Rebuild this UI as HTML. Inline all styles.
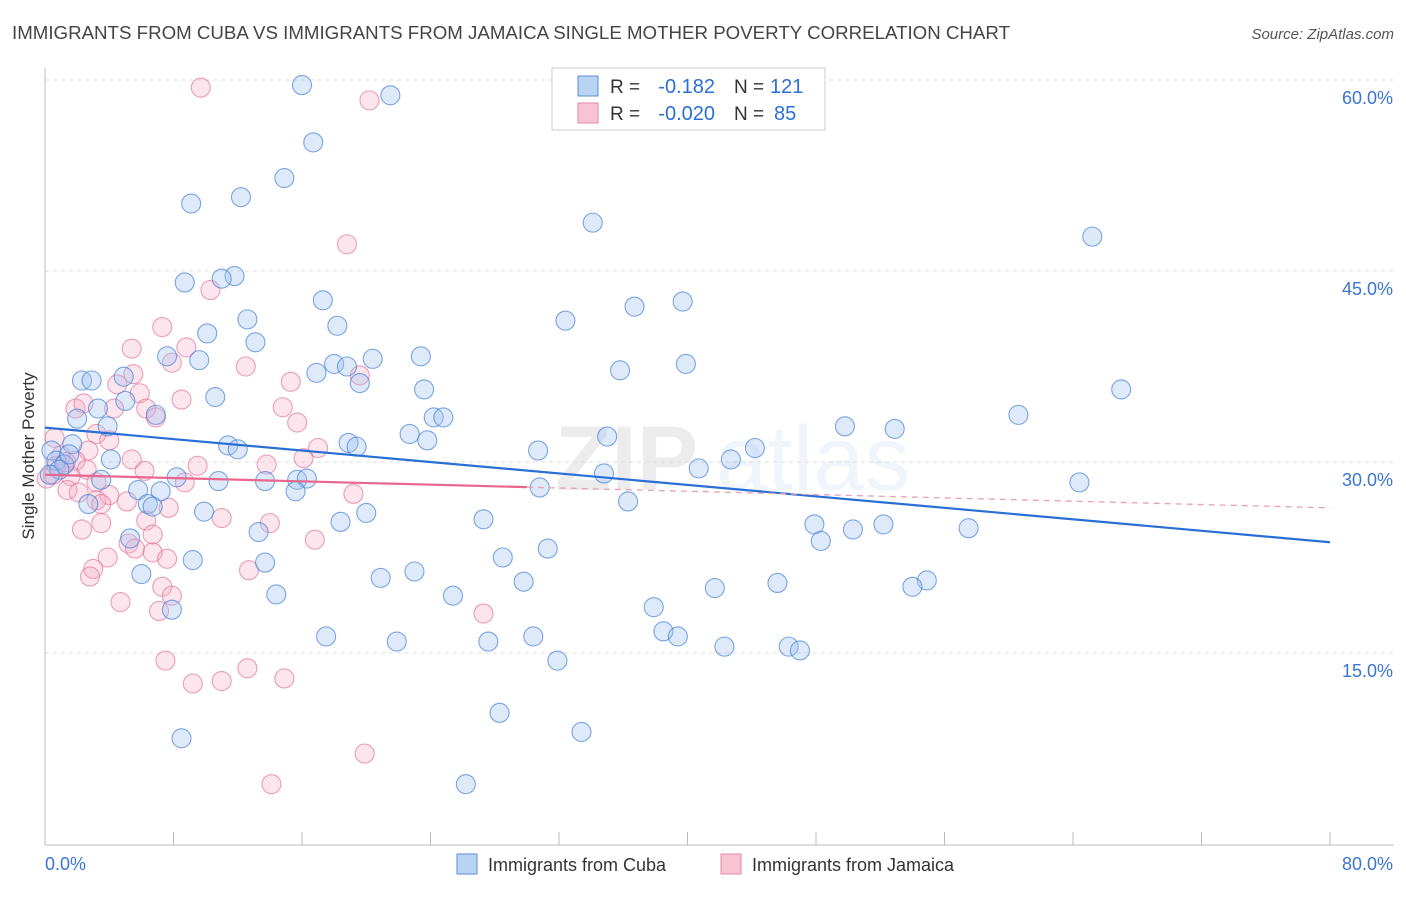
<!DOCTYPE html>
<html><head><meta charset="utf-8"><style>
body{margin:0;background:#fff;font-family:"Liberation Sans",sans-serif}
svg text{font-family:"Liberation Sans",sans-serif}
</style></head><body>
<svg id="chart" width="1406" height="892" viewBox="0 0 1406 892">
<text x="12" y="39" font-size="18" fill="#444" textLength="998" lengthAdjust="spacingAndGlyphs">IMMIGRANTS FROM CUBA VS IMMIGRANTS FROM JAMAICA SINGLE MOTHER POVERTY CORRELATION CHART</text>
<text x="1394" y="39" font-size="15" fill="#555" text-anchor="end" font-style="italic">Source: ZipAtlas.com</text>
<text transform="translate(34,456) rotate(-90)" font-size="17" fill="#333" text-anchor="middle">Single Mother Poverty</text>
<g font-size="92" fill="#000" opacity="0.07"><text x="555" y="490" font-weight="bold">ZIP</text><text x="716" y="490" fill="#2a6fd6" opacity="0.9">atlas</text></g>
<g id="grid"></g><g id="axes"></g><g id="pts"></g><g id="lines"></g>
<g>
<rect x="552" y="68" width="273" height="62" fill="#fff" stroke="#ccc"/>
<rect x="578" y="76" width="20" height="20" fill="#b9d3f3" stroke="#5b8fd8"/>
<rect x="578" y="103" width="20" height="20" fill="#f8c3d2" stroke="#e68aa5"/>
<text x="610" y="93" font-size="19" fill="#333">R =</text>
<text x="715" y="93" font-size="20" fill="#2a6fd6" text-anchor="end">-0.182</text>
<text x="734" y="93" font-size="19" fill="#333">N =</text>
<text x="770" y="93" font-size="20" fill="#2a6fd6">121</text>
<text x="610" y="120" font-size="19" fill="#333">R =</text>
<text x="715" y="120" font-size="20" fill="#2a6fd6" text-anchor="end">-0.020</text>
<text x="734" y="120" font-size="19" fill="#333">N =</text>
<text x="774" y="120" font-size="20" fill="#2a6fd6">85</text>
</g>
<g>
<rect x="457" y="854" width="20" height="20" fill="#b9d3f3" stroke="#5b8fd8"/>
<text x="488" y="871" font-size="18" fill="#333">Immigrants from Cuba</text>
<rect x="721" y="854" width="20" height="20" fill="#f8c3d2" stroke="#e68aa5"/>
<text x="752" y="871" font-size="18" fill="#333">Immigrants from Jamaica</text>
</g>
</svg>
<script>
const cubaX=[16.0,21.5,16.7,14.9,9.1,12.2,34.1,65.2,11.8,11.0,8.7,17.3,39.7,36.7,12.6,32.4,18.2,10.1,13.1,7.6,9.6,20.4,23.4,18.0,18.8,16.9,39.9,35.8,19.6,2.3,2.9,4.9,67.0,23.6,10.6,5.0,3.3,6.9,2.0,24.2,24.8,60.6,49.8,52.9,22.7,23.8,35.0,1.7,3.9,11.4,12.0,18.9,19.4,30.7,44.2,42.7,4.1,0.4,0.7,1.2,40.7,34.8,8.2,10.8,13.7,15.7,16.3,3.5,7.2,5.8,15.6,30.8,64.4,36.3,2.7,6.4,6.7,9.9,20.0,47.9,52.2,50.3,57.5,27.3,18.4,13.3,48.3,5.3,31.3,28.5,9.2,13.7,6.0,20.9,23.0,29.8,41.7,45.6,54.9,54.0,14.4,25.4,37.9,7.9,38.5,39.4,30.4,17.5,21.9,27.6,42.3,46.3,47.0,31.9,28.3,33.4,8.5,26.2,0.9,1.5,0.3];
const cubaY=[59.6,58.8,55.1,52.3,50.3,50.8,48.8,47.7,44.6,44.4,44.1,42.7,42.6,42.2,41.2,41.1,40.7,40.1,39.4,38.3,38.0,38.1,38.3,37.7,37.5,37.0,37.7,37.2,36.2,36.4,36.4,36.7,35.7,35.7,35.1,34.8,34.2,33.7,33.4,33.5,33.5,33.7,32.8,32.6,32.2,31.7,32.0,31.4,32.8,31.3,31.0,31.5,31.2,30.9,31.1,30.2,30.2,30.9,30.1,29.8,29.5,29.1,28.8,28.5,28.5,28.6,28.7,28.6,27.7,27.8,27.7,28.0,28.4,26.9,26.7,26.7,26.5,26.1,26.0,25.1,25.1,24.7,24.8,25.5,25.3,24.5,23.8,24.0,23.2,22.5,22.3,22.1,21.2,20.9,21.4,20.6,20.1,20.5,20.7,20.2,19.6,19.5,18.6,18.4,16.7,16.3,16.3,16.3,15.9,15.9,15.5,15.5,15.2,14.4,10.3,8.8,8.3,4.7,29.4,30.6,29.0];
const jamX=[9.7,20.2,18.8,10.3,7.3,8.8,5.4,7.9,12.5,5.5,19.6,15.3,4.5,5.9,8.5,1.9,4.3,2.4,6.3,14.8,6.9,15.7,0.6,3.2,4.0,2.7,17.0,16.1,5.4,1.9,9.5,13.8,0.7,2.6,6.2,1.6,0.1,8.7,3.2,1.4,2.1,4.0,19.2,3.2,5.1,3.5,7.7,11.0,6.3,3.5,14.0,2.3,6.7,16.8,5.2,5.6,6.7,3.9,7.6,12.7,3.0,2.8,7.3,7.9,4.7,7.1,27.3,7.5,12.6,14.9,11.0,9.2,19.9,14.1,1.0,0.5,1.3];
const jamY=[59.4,58.4,47.1,43.5,40.6,39.0,38.9,37.8,37.5,36.9,36.8,36.3,36.1,35.4,34.9,34.2,34.2,34.6,34.2,34.3,33.5,33.1,31.9,32.2,31.7,30.9,31.1,30.3,30.2,30.1,29.7,29.8,29.7,29.4,29.3,28.9,28.7,28.4,28.4,27.8,27.6,27.4,27.5,27.0,26.9,26.7,26.4,25.6,25.4,25.2,25.2,24.7,24.3,23.9,23.6,23.2,22.9,22.5,22.4,21.5,21.6,21.0,20.2,19.5,19.0,18.3,18.1,14.4,13.8,13.0,12.8,12.6,7.1,4.7,30.5,29.0,30.0];
const cubaLine=[32.7,23.7];
const jamLine=[29.0,26.4];
const jamSolidEnd=30;
const yTicks=[15,30,45,60];
const xTickLabels=["0.0%","80.0%"];
const NS="http://www.w3.org/2000/svg";
const X=v=>45+v*(1330-45)/80;
const Y=v=>653-(v-15)*(653-462)/15;
function mk(parent,tag,attrs){const e=document.createElementNS(NS,tag);for(const k in attrs)e.setAttribute(k,attrs[k]);document.getElementById(parent).appendChild(e);return e;}
yTicks.forEach(t=>{
 const l=mk('grid','line',{x1:45,x2:1394,y1:Y(t),y2:Y(t),stroke:'#ddd','stroke-dasharray':'4,4'});
 
 
 const tx=mk('grid','text',{x:1393,y:Y(t)+24,'font-size':18,fill:'#3a75d4','text-anchor':'end'});
 tx.textContent=t.toFixed(1)+'%';
 
 
});
const ax=mk('axes','line',{x1:45,x2:1394,y1:845,y2:845,stroke:'#bbb'});


const ay=mk('axes','line',{x1:45,x2:45,y1:68,y2:845,stroke:'#bbb'});


for(let i=0;i<=10;i++){const t=mk('axes','line',{x1:X(i*8),x2:X(i*8),y1:832,y2:845,stroke:'#bbb'});
 
 }
const xl0=mk('axes','text',{x:45,y:870,'font-size':18,fill:'#3a75d4'});xl0.textContent=xTickLabels[0];


const xl1=mk('axes','text',{x:1393,y:870,'font-size':18,fill:'#3a75d4','text-anchor':'end'});xl1.textContent=xTickLabels[1];


jamX.forEach((v,i)=>{const c=mk('pts','circle',{cx:X(v),cy:Y(jamY[i]),r:9.5,fill:'rgba(245,170,195,0.3)',stroke:'rgba(226,120,155,0.7)','stroke-width':1.1});
 
 });
cubaX.forEach((v,i)=>{const c=mk('pts','circle',{cx:X(v),cy:Y(cubaY[i]),r:9.5,fill:'rgba(160,195,240,0.35)',stroke:'rgba(70,130,215,0.7)','stroke-width':1.1});
 
 });
const bl=mk('lines','line',{x1:X(0),y1:Y(cubaLine[0]),x2:X(80),y2:Y(cubaLine[1]),stroke:'#2a6fd6','stroke-width':2.2});


const jy=x=>jamLine[0]+(jamLine[1]-jamLine[0])*x/80;
const pl=mk('lines','line',{x1:X(0),y1:Y(jy(0)),x2:X(jamSolidEnd),y2:Y(jy(jamSolidEnd)),stroke:'#e8678f','stroke-width':2.2});


const pd=mk('lines','line',{x1:X(jamSolidEnd),y1:Y(jy(jamSolidEnd)),x2:X(80),y2:Y(jy(80)),stroke:'#e8a0b5','stroke-width':1.3,'stroke-dasharray':'6,5'});


</script>
</body></html>
